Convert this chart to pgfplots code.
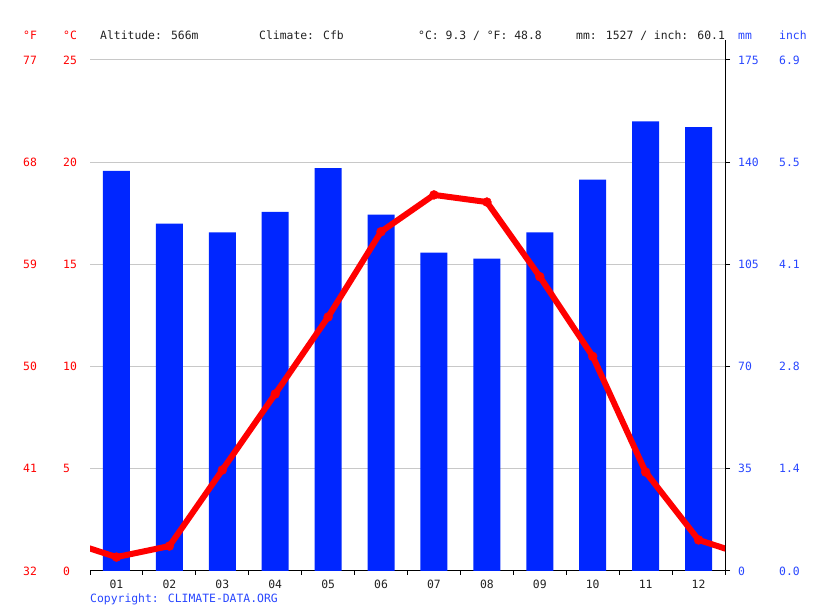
\documentclass[border=0pt]{standalone}
\usepackage{fontspec}
\setmainfont{DejaVu Sans Mono}
\usepackage{pgfplots}
\pgfplotsset{compat=1.18}
\definecolor{barblue}{RGB}{0,38,255}
\definecolor{lblblue}{RGB}{40,70,255}
\definecolor{tred}{RGB}{255,0,0}
\definecolor{gridgray}{RGB}{200,200,200}
\definecolor{hdr}{RGB}{34,34,34}
\begin{document}
\fontsize{11.4bp}{13bp}\selectfont
\begin{tikzpicture}[x=1bp,y=1bp]
\path[use as bounding box] (0,0) rectangle (815,611);
% precipitation (mm) axis
\begin{axis}[
  at={(90bp,40bp)}, anchor=south west, scale only axis,
  width=635bp, height=511bp,
  xmin=0.5, xmax=12.5, ymin=0, ymax=175,
  axis x line*=bottom, axis y line*=right,
  tick align=outside,
  xtick={1,...,12},
  xticklabels={01,02,03,04,05,06,07,08,09,10,11,12},
  major x tick style={draw=none},
  minor xtick={0.5,1.5,...,12.5},
  minor tick length=4bp, major tick length=5bp,
  xticklabel style={text=hdr},
  ytick={0,35,70,105,140,175},
  yticklabels={\makebox[41bp][l]{0}0.0,\makebox[41bp][l]{35}1.4,\makebox[41bp][l]{70}2.8,\makebox[41bp][l]{105}4.1,\makebox[41bp][l]{140}5.5,\makebox[41bp][l]{175}6.9},
  yticklabel style={anchor=west, inner sep=0pt, xshift=8bp, text=lblblue},
  ymajorgrids, grid style={gridgray, line width=1bp},
  axis line style={black, line width=1bp},
  y axis line style={shorten >=-20bp},
  tick style={black, line width=1bp},
]
\addplot[ybar, bar width=0.51, fill=barblue, draw=none] coordinates {
 (1,137) (2,119) (3,116) (4,123) (5,138) (6,122) (7,109) (8,107) (9,116) (10,134) (11,154) (12,152)};
\end{axis}
% temperature axis
\begin{axis}[
  at={(90bp,40bp)}, anchor=south west, scale only axis,
  width=635bp, height=511bp,
  xmin=0.5, xmax=12.5, ymin=0, ymax=25,
  hide x axis,
  axis y line*=left,
  y axis line style={draw=none},
  major tick length=0pt,
  ytick={0,5,10,15,20,25},
  yticklabels={\makebox[40bp][l]{32}0,\makebox[40bp][l]{41}5,\makebox[40bp][l]{50}10,\makebox[40bp][l]{59}15,\makebox[40bp][l]{68}20,\makebox[40bp][l]{77}25},
  yticklabel style={anchor=west, inner sep=0pt, xshift=-67bp, text=tred},
]
\addplot[tred, line width=6bp, no marks] coordinates {
 (0,1.52) (1,0.68) (2,1.22) (3,4.94) (4,8.66) (5,12.43) (6,16.6) (7,18.4) (8,18.05) (9,14.4) (10,10.5) (11,4.84) (12,1.52) (13,0.68)};
\addplot[only marks, mark=*, mark size=4.5bp, mark options={fill=tred, draw=tred}] coordinates {
 (1,0.68) (2,1.22) (3,4.94) (4,8.66) (5,12.43) (6,16.6) (7,18.4) (8,18.05) (9,14.4) (10,10.5) (11,4.84) (12,1.52)};
\end{axis}
\node[anchor=base west, inner sep=0pt, text=tred] at (23,571) {°F};
\node[anchor=base west, inner sep=0pt, text=tred] at (63,571) {°C};
\node[anchor=base west, inner sep=0pt, text=hdr] at (100,571) {Altitude: 566m};
\node[anchor=base west, inner sep=0pt, text=hdr] at (259,571) {Climate: Cfb};
\node[anchor=base west, inner sep=0pt, text=hdr] at (418,571) {°C: 9.3 / °F: 48.8};
\node[anchor=base west, inner sep=0pt, text=hdr] at (576,571) {mm: 1527 / inch: 60.1};
\node[anchor=base west, inner sep=0pt, text=lblblue] at (738,571) {mm};
\node[anchor=base west, inner sep=0pt, text=lblblue] at (779,571) {inch};
\node[anchor=base west, inner sep=0pt, text=lblblue] at (90,8) {Copyright: CLIMATE-DATA.ORG};
\end{tikzpicture}
\end{document}
